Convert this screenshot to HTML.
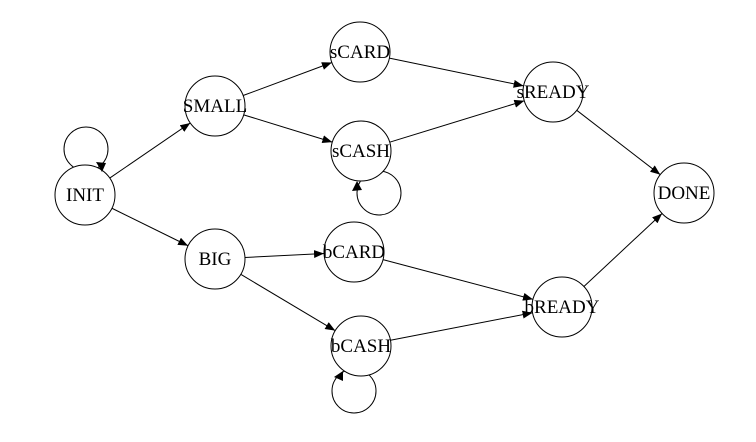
<!DOCTYPE html>
<html><head><meta charset="utf-8"><style>
html,body{margin:0;padding:0;background:#fff;width:756px;height:442px;overflow:hidden}
text{font-family:"Liberation Serif",serif;font-size:19px;fill:#000}
</style></head><body>
<svg id="g" width="756" height="442" xmlns="http://www.w3.org/2000/svg">
<defs><marker id="a" markerWidth="10" markerHeight="8" refX="10" refY="4" orient="auto" markerUnits="userSpaceOnUse"><path d="M0,0 L10,4 L0,8 z" fill="#000"/></marker></defs>
<g fill="none" stroke="#000" stroke-width="1">
<circle cx="86" cy="149" r="22"/>
<circle cx="379" cy="193" r="22"/>
<circle cx="354" cy="391" r="22"/>
</g>
<g id="edges" stroke="#000" stroke-width="1"></g>
<g id="nodes"></g>
<g fill="#000">
<polygon points="102,172 96,162 106,163"/>
<polygon points="357,181 352,191 362,190"/>
<polygon points="343,371 334,377 343,381"/>
</g>
</svg>
<script>
var N={INIT:[85,195],SMALL:[215,106],BIG:[215,259],sCARD:[360,52],sCASH:[361,151],bCARD:[354,252],bCASH:[361,346],sREADY:[553,92],bREADY:[562,307],DONE:[684,193]};
var E=[["INIT","SMALL"],["INIT","BIG"],["SMALL","sCARD"],["SMALL","sCASH"],["BIG","bCARD"],["BIG","bCASH"],["sCARD","sREADY"],["sCASH","sREADY"],["bCARD","bREADY"],["bCASH","bREADY"],["sREADY","DONE"],["bREADY","DONE"]];
var R=30,ns="http://www.w3.org/2000/svg";
var eg=document.getElementById("edges"),ng=document.getElementById("nodes");
E.forEach(function(e){var a=N[e[0]],b=N[e[1]],dx=b[0]-a[0],dy=b[1]-a[1],d=Math.hypot(dx,dy),ux=dx/d,uy=dy/d;
var l=document.createElementNS(ns,"line");l.setAttribute("x1",a[0]+ux*R);l.setAttribute("y1",a[1]+uy*R);l.setAttribute("x2",b[0]-ux*R);l.setAttribute("y2",b[1]-uy*R);l.setAttribute("marker-end","url(#a)");eg.appendChild(l);});
for(var k in N){var c=document.createElementNS(ns,"circle");c.setAttribute("cx",N[k][0]);c.setAttribute("cy",N[k][1]);c.setAttribute("r",R);c.setAttribute("fill","#fff");c.setAttribute("stroke","#000");ng.appendChild(c);}
for(var k in N){var t=document.createElementNS(ns,"text");t.setAttribute("x",N[k][0]);t.setAttribute("y",N[k][1]+6);t.setAttribute("text-anchor","middle");t.textContent=k;ng.appendChild(t);}
</script>
</body></html>
